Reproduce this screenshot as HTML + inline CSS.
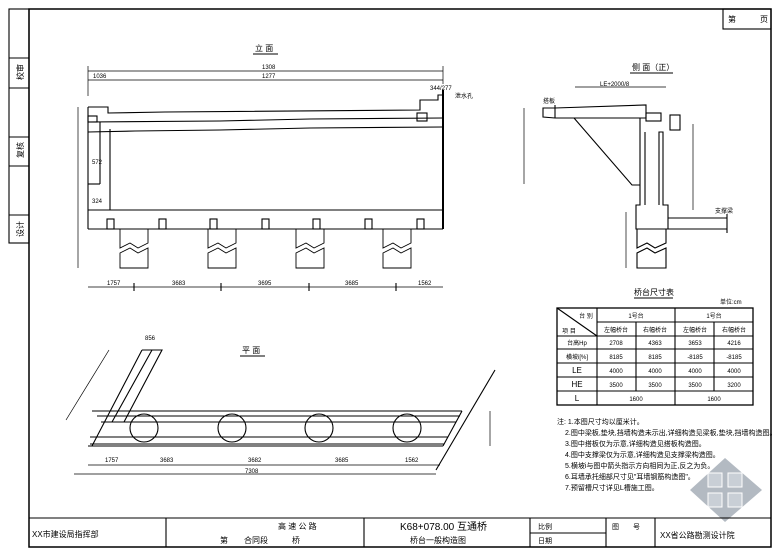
<!DOCTYPE html>
<html><head><meta charset="utf-8"><style>
html,body{margin:0;padding:0;background:#fff}
svg{display:block}
text{font-family:"Liberation Sans","Noto Sans CJK SC",sans-serif;fill:#000}
.s{font-size:6px}
.m{font-size:8px}
</style></head><body>
<svg width="780" height="558" viewBox="0 0 780 558" xmlns="http://www.w3.org/2000/svg">
<!-- watermark -->
<g>
<path d="M725 458 L762 490 L725 522 L690 490 Z" fill="#9aa3ad" opacity=".75"/>
<g fill="#c9cfd6" stroke="#fff" stroke-width="1">
<path d="M708 473 H722 V487 H708 Z"/><path d="M728 473 H742 V487 H728 Z"/>
<path d="M708 493 H722 V507 H708 Z"/><path d="M728 493 H742 V507 H728 Z"/>
</g>
</g>
<g fill="none" stroke="#000" stroke-width="1.1">
<!-- frame -->
<rect x="29" y="9" width="742" height="538" stroke-width="1.5"/>
<rect x="9" y="9" width="20" height="234"/>
<line x1="9" y1="58" x2="29" y2="58"/><line x1="9" y1="88" x2="29" y2="88"/>
<line x1="9" y1="137" x2="29" y2="137"/><line x1="9" y1="166" x2="29" y2="166"/>
<line x1="9" y1="215" x2="29" y2="215"/>
<rect x="723" y="9" width="48" height="20"/>
<!-- title block -->
<line x1="29" y1="518" x2="771" y2="518"/>
<line x1="166" y1="518" x2="166" y2="547"/><line x1="364" y1="518" x2="364" y2="547"/>
<line x1="530" y1="518" x2="530" y2="547"/><line x1="606" y1="518" x2="606" y2="547"/>
<line x1="655" y1="518" x2="655" y2="547"/><line x1="530" y1="533" x2="606" y2="533"/>

<!-- elevation -->
<line x1="88" y1="71" x2="443" y2="71" stroke-width=".7"/>
<line x1="88" y1="80" x2="443" y2="80" stroke-width=".7"/>
<line x1="88" y1="66" x2="88" y2="96" stroke-width=".7"/>
<line x1="443" y1="66" x2="443" y2="84" stroke-width=".7"/>
<path d="M88 107 H108 V113 L165 112 L420 110 V100 H438 V95 H443"/>
<rect x="88" y="116" width="9" height="6"/>
<path d="M88 122 L220 121 L310 119 L443 118"/>
<path d="M88 132 L135 131 L220 130 L310 128 L443 127"/>
<line x1="88" y1="107" x2="88" y2="229"/>
<line x1="100" y1="122" x2="100" y2="184"/>
<line x1="110" y1="129" x2="110" y2="210"/>
<line x1="88" y1="184" x2="100" y2="184"/>
<line x1="443" y1="90" x2="443" y2="229" stroke-width="2"/>
<rect x="417" y="113" width="10" height="8"/>
<line x1="88" y1="210" x2="443" y2="210"/>
<line x1="88" y1="229" x2="443" y2="229"/>
<g>
<rect x="107" y="219" width="7" height="10"/><rect x="159" y="219" width="7" height="10"/>
<rect x="210" y="219" width="7" height="10"/><rect x="262" y="219" width="7" height="10"/>
<rect x="313" y="219" width="7" height="10"/><rect x="365" y="219" width="7" height="10"/>
<rect x="417" y="219" width="7" height="10"/>
</g>
<g stroke-width=".9">
<path d="M120 229 V248 L130 243 L138 248 L148 243 V229"/><path d="M120 268 V253 L130 248 L138 253 L148 248 V268 Z"/>
<path d="M208 229 V248 L218 243 L226 248 L236 243 V229"/><path d="M208 268 V253 L218 248 L226 253 L236 248 V268 Z"/>
<path d="M296 229 V248 L306 243 L314 248 L324 243 V229"/><path d="M296 268 V253 L306 248 L314 253 L324 248 V268 Z"/>
<path d="M383 229 V248 L393 243 L401 248 L411 243 V229"/><path d="M383 268 V253 L393 248 L401 253 L411 248 V268 Z"/>
</g>
<line x1="78" y1="107" x2="78" y2="268" stroke-width=".7"/>
<line x1="88" y1="287" x2="443" y2="287" stroke-width=".7"/>
<line x1="134" y1="283" x2="134" y2="291"/><line x1="221" y1="283" x2="221" y2="291"/>
<line x1="309" y1="283" x2="309" y2="291"/><line x1="396" y1="283" x2="396" y2="291"/>

<!-- side view -->
<path d="M543 108 H555 L646 105 V118 H555 L543 117 Z" />
<line x1="555" y1="105" x2="555" y2="118"/>
<path d="M574 118 L632 185 H640"/>
<rect x="646" y="113" width="15" height="8"/>
<path d="M640 118 V205 H636 V229 H668 V205 H663 V132 H659 V205"/>
<path d="M645 132 V205"/>
<rect x="670" y="115" width="10" height="15"/>
<path d="M668 218 H727 M668 229 H727 M727 214 V233"/>
<path d="M637 229 V248 L647 243 L655 248 L666 243 V229"/><path d="M637 268 V253 L647 248 L655 253 L666 248 V268 Z"/>
<line x1="575" y1="87" x2="666" y2="87" stroke-width=".7"/>
<line x1="524" y1="108" x2="524" y2="184" stroke-width=".7"/>
<line x1="693" y1="124" x2="693" y2="210" stroke-width=".7"/>
<line x1="626" y1="212" x2="626" y2="268" stroke-width=".7"/>

<!-- plan -->
<path d="M92 411 H462 M97 416 H460 M101 422 H456 M90 437 H448 M90 444 H444 M88 446 H443"/>
<path d="M142 350 H162 L124 422 M152 350 L112 422 M142 350 L92 446"/>
<path d="M495 370 L436 470"/>
<line x1="462" y1="411" x2="443" y2="446"/>
<circle cx="144" cy="428" r="14"/><circle cx="232" cy="428" r="14"/>
<circle cx="319" cy="428" r="14"/><circle cx="407" cy="428" r="14"/>
<line x1="88" y1="465" x2="440" y2="465" stroke-width=".7"/>
<line x1="74" y1="474" x2="436" y2="474" stroke-width=".7"/>
<line x1="66" y1="420" x2="109" y2="350" stroke-width=".7"/>
<line x1="490" y1="411" x2="490" y2="446" stroke-width=".7"/>

<!-- table -->
<rect x="557" y="308" width="196" height="97" stroke-width="1.3"/>
<path d="M557 336 H753 M557 349 H753 M557 363 H753 M557 377 H753 M557 391 H753 M597 322 H753"/>
<path d="M597 308 V405 M675 308 V405 M636 322 V391 M714 322 V391 M557 308 L597 336"/>
</g>

<!-- underlines -->
<g stroke="#000">
<line x1="253" y1="54" x2="278" y2="54"/><line x1="240" y1="356" x2="265" y2="356"/>
<line x1="630" y1="73" x2="673" y2="73"/><line x1="634" y1="298" x2="673" y2="298"/>
</g>

<!-- text -->
<text x="255" y="51" class="m">立 面</text>
<text x="242" y="353" class="m">平 面</text>
<text x="632" y="70" class="m">侧 面（正）</text>
<text x="634" y="295" class="m">桥台尺寸表</text>
<text x="720" y="304" class="s">单位:cm</text>
<text x="728" y="22" class="m">第</text><text x="760" y="22" class="m">页</text>
<g class="m" transform="rotate(-90)">
<text x="-80" y="23">校审</text><text x="-158" y="23">复核</text><text x="-237" y="23">设计</text>
</g>
<text x="262" y="69" class="s">1308</text><text x="262" y="78" class="s">1277</text>
<text x="93" y="78" class="s">1036</text>
<text x="455" y="98" class="s">泄水孔</text>
<text x="430" y="90" class="s">344/277</text>
<text x="92" y="164" class="s">572</text><text x="92" y="203" class="s">324</text>
<text x="107" y="285" class="s">1757</text><text x="172" y="285" class="s">3683</text>
<text x="258" y="285" class="s">3695</text><text x="345" y="285" class="s">3685</text><text x="418" y="285" class="s">1562</text>
<text x="543" y="103" class="s">搭板</text>
<text x="715" y="213" class="s">支撑梁</text>
<text x="600" y="86" class="s">LE+2000/8</text>
<text x="145" y="340" class="s">856</text>
<text x="105" y="462" class="s">1757</text><text x="160" y="462" class="s">3683</text>
<text x="248" y="462" class="s">3682</text><text x="335" y="462" class="s">3685</text><text x="405" y="462" class="s">1562</text>
<text x="245" y="473" class="s">7308</text>

<g class="s" text-anchor="middle">
<text x="586" y="318">台 别</text><text x="569" y="333">项 目</text>
<text x="636" y="318">1号台</text><text x="714" y="318">1号台</text>
<text x="616" y="332">左幅桥台</text><text x="655" y="332">右幅桥台</text>
<text x="695" y="332">左幅桥台</text><text x="734" y="332">右幅桥台</text>
<text x="577" y="345">台高Hp</text><text x="616" y="345">2708</text><text x="655" y="345">4363</text><text x="695" y="345">3653</text><text x="734" y="345">4216</text>
<text x="577" y="359">横坡i[%]</text><text x="616" y="359">8185</text><text x="655" y="359">8185</text><text x="695" y="359">-8185</text><text x="734" y="359">-8185</text>
<text x="577" y="373" class="m">LE</text><text x="616" y="373">4000</text><text x="655" y="373">4000</text><text x="695" y="373">4000</text><text x="734" y="373">4000</text>
<text x="577" y="387" class="m">HE</text><text x="616" y="387">3500</text><text x="655" y="387">3500</text><text x="695" y="387">3500</text><text x="734" y="387">3200</text>
<text x="577" y="401" class="m">L</text><text x="636" y="401">1600</text><text x="714" y="401">1600</text>
</g>
<g font-size="7">
<text x="557" y="424">注: 1.本图尺寸均以厘米计。</text>
<text x="565" y="435">2.图中梁板,垫块,挡墙构造未示出,详细构造见梁板,垫块,挡墙构造图。</text>
<text x="565" y="446">3.图中搭板仅为示意,详细构造见搭板构造图。</text>
<text x="565" y="457">4.图中支撑梁仅为示意,详细构造见支撑梁构造图。</text>
<text x="565" y="468">5.横坡i与图中箭头指示方向相同为正,反之为负。</text>
<text x="565" y="479">6.耳墙承托细部尺寸见"耳墙钢筋构造图"。</text>
<text x="565" y="490">7.预留槽尺寸详见L槽施工图。</text>
</g>
<text x="32" y="537" font-size="8">XX市建设局指挥部</text>
<text x="278" y="529" font-size="8">高 速 公 路</text>
<text x="220" y="543" font-size="8">第　　合同段　　　桥</text>
<text x="400" y="530" font-size="10">K68+078.00 互通桥</text>
<text x="410" y="543" font-size="8">桥台一般构造图</text>
<text x="538" y="529" font-size="7">比例</text><text x="538" y="543" font-size="7">日期</text>
<text x="612" y="529" font-size="7">图　　号</text>
<text x="660" y="538" font-size="8">XX省公路勘测设计院</text>
</svg>
</body></html>
